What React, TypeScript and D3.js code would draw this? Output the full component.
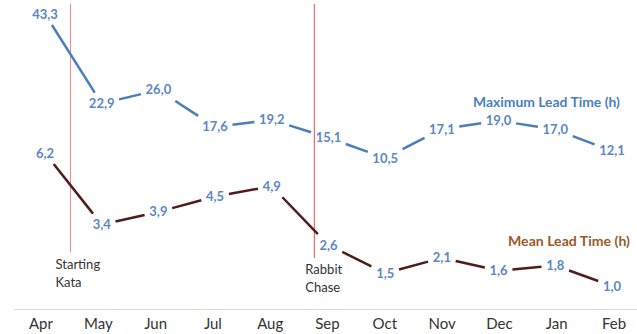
import React from "react";
import * as d3 from "d3";

const months = ["Apr", "May", "Jun", "Jul", "Aug", "Sep", "Oct", "Nov", "Dec", "Jan", "Feb"];
const maxLead = [43.3, 22.9, 26.0, 17.6, 19.2, 15.1, 10.5, 17.1, 19.0, 17.0, 12.1];
const meanLead = [6.2, 3.4, 3.9, 4.5, 4.9, 2.6, 1.5, 2.1, 1.6, 1.8, 1.0];
const events = [
  { pos: 0.45, lines: ["Starting", "Kata"] },
  { pos: 4.75, lines: ["Rabbit", "Chase"] },
];
const seriesNames = ["Maximum Lead Time (h)", "Mean Lead Time (h)"];

const W = 637;
const H = 334;
const FONT = "Lato, 'Open Sans', sans-serif";

const x = d3.scaleLinear().domain([0, months.length - 1]).range([45, 612]);
const xLabel = d3.scaleLinear().domain([0, months.length - 1]).range([41, 614]);
const yMax = d3.scaleLinear().domain([10.5, 43.3]).range([158, 14]);
const yMean = d3.scaleLinear().domain([1.0, 6.2]).range([286, 153]);

const fmt = (v: number) => v.toFixed(1).replace(".", ",");

function clippedSegments(vals: number[], y: (v: number) => number) {
  const pts = vals.map((v, i) => ({ x: x(i), y: y(v), hw: fmt(v).length * 3.6 + 3, hh: 11 }));
  const segs: { x1: number; y1: number; x2: number; y2: number }[] = [];
  for (let i = 0; i < pts.length - 1; i++) {
    const a = pts[i];
    const b = pts[i + 1];
    const dx = b.x - a.x;
    const dy = b.y - a.y;
    const ta = Math.min(a.hw / Math.abs(dx || 1e-9), a.hh / Math.abs(dy || 1e-9));
    const tb = Math.min(b.hw / Math.abs(dx || 1e-9), b.hh / Math.abs(dy || 1e-9));
    if (ta + tb >= 1) continue;
    segs.push({
      x1: a.x + dx * ta,
      y1: a.y + dy * ta,
      x2: b.x - dx * tb,
      y2: b.y - dy * tb,
    });
  }
  return { pts, segs };
}

export default function App() {
  const maxS = clippedSegments(maxLead, yMax);
  const meanS = clippedSegments(meanLead, yMean);
  return (
    <svg width={W} height={H} style={{ position: "absolute", left: 0, top: 0, background: "#fff" }}>
      <line x1={14} x2={W} y1={309.5} y2={309.5} stroke="#d9d9d9" strokeWidth={1} />
      {events.map((e, i) => (
        <g key={i}>
          <line
            x1={x(e.pos)}
            x2={x(e.pos)}
            y1={4}
            y2={i === 0 ? 252 : 258}
            stroke={i === 0 ? "#f28b8b" : "#e0504f"}
            strokeWidth={1}
          />
          {e.lines.map((t, j) => (
            <text
              key={j}
              x={x(e.pos) + (i === 0 ? -15 : -9)}
              y={(i === 0 ? 269 : 274) + j * 18}
              fontFamily={FONT}
              fontSize={13}
              fill="#333"
            >
              {t}
            </text>
          ))}
        </g>
      ))}
      {maxS.segs.map((s, i) => (
        <line key={"m" + i} {...s} stroke="#4a7ebb" strokeWidth={2.5} strokeLinecap="butt" />
      ))}
      {meanS.segs.map((s, i) => (
        <line key={"n" + i} {...s} stroke="#4f1c1c" strokeWidth={2.5} strokeLinecap="butt" />
      ))}
      {[...maxLead.map((v, i) => ({ v, p: maxS.pts[i] })), ...meanLead.map((v, i) => ({ v, p: meanS.pts[i] }))].map(
        (d, i) => (
          <text
            key={"l" + i}
            x={d.p.x}
            y={d.p.y + 4.5}
            textAnchor="middle"
            fontFamily={FONT}
            fontWeight="bold"
            fontSize={13}
            fill="#5b87c5"
          >
            {fmt(d.v)}
          </text>
        )
      )}
      <text x={473} y={107} fontFamily={FONT} fontWeight="bold" fontSize={13.9} fill="#4a7fbf">
        {seriesNames[0]}
      </text>
      <text x={508} y={246} fontFamily={FONT} fontWeight="bold" fontSize={14.1} fill="#9a5a2a">
        {seriesNames[1]}
      </text>
      {months.map((m, i) => (
        <text key={m} x={xLabel(i)} y={329} textAnchor="middle" fontFamily={FONT} fontSize={15} fill="#333">
          {m}
        </text>
      ))}
    </svg>
  );
}
